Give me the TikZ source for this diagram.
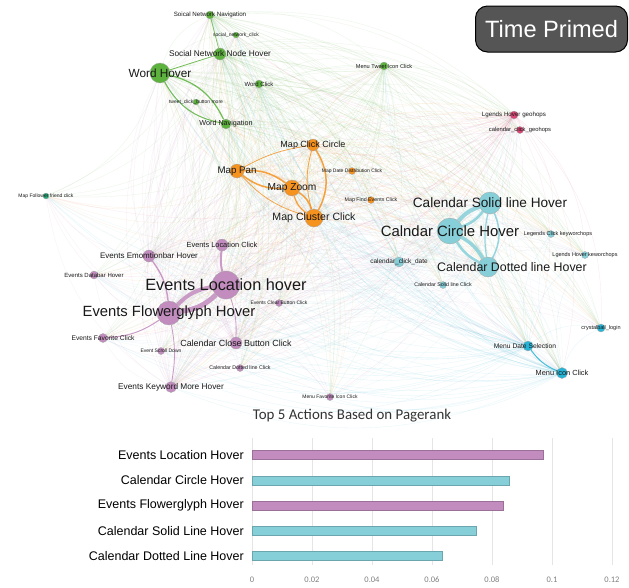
\documentclass[tikz,border=0pt]{standalone}
\usepackage{fontspec}
\setmainfont{Liberation Sans}
\newfontfamily\chartfont{Carlito}
\pgfdeclarelayer{bg}
\pgfdeclarelayer{edges}
\pgfsetlayers{bg,edges,main}
\definecolor{gcol}{RGB}{92,178,60}
\definecolor{ocol}{RGB}{246,146,30}
\definecolor{pcol}{RGB}{221,68,118}
\definecolor{tcol}{RGB}{38,168,122}
\definecolor{ccol}{RGB}{134,207,217}
\definecolor{mcol}{RGB}{38,180,214}
\definecolor{ucol}{RGB}{194,140,190}
\definecolor{boxgray}{RGB}{85,85,85}
\tikzset{
  act/.style={circle, inner sep=0pt, minimum size=#1, draw=black!35, line width=0.3pt},
  lab/.style={inner sep=0pt, font=\fontsize{#1}{#1}\selectfont, text=black!90},
  faint/.style={line width=0.3pt, draw opacity=0.13, bend left=24},
  edge/.style={draw opacity=0.85, bend left=18},
  gridline/.style={draw=black!10, line width=0.6pt},
  ticklab/.style={inner sep=0pt, text=black!50, font=\chartfont\fontsize{8.5}{9}\selectfont},
  barlab/.style={inner sep=0pt, anchor=east, font=\fontsize{12.5}{13}\selectfont}
}
\begin{document}
\begin{tikzpicture}[x=1pt,y=-1pt]
  \useasboundingbox (0,0) rectangle (629,587);
  \begin{pgfonlayer}{bg}
    \fill[white] (0,0) rectangle (629,587);
  \end{pgfonlayer}

  % word and social network actions
  \node[act=8, fill=gcol] (snn) at (210,15) {};
  \node[act=6, fill=gcol] (snc) at (236,35) {};
  \node[act=12, fill=gcol] (snh) at (220,54) {};
  \node[act=20, fill=gcol] (wh) at (160,73) {};
  \node[act=8, fill=gcol] (wc) at (259,84) {};
  \node[act=6, fill=gcol] (tcb) at (196,102) {};
  \node[act=10, fill=gcol] (wn) at (226,124) {};
  \node[act=8, fill=gcol] (mtc) at (384,66) {};
  % geohops
  \node[act=8, fill=pcol] (lhg) at (514,115) {};
  \node[act=7, fill=pcol] (ccg) at (520,130) {};
  % map actions
  \node[act=12, fill=ocol] (mcl) at (313,145) {};
  \node[act=14, fill=ocol] (mp) at (237,171) {};
  \node[act=16, fill=ocol] (mz) at (292,188) {};
  \node[act=18, fill=ocol] (mcc) at (314,218) {};
  \node[act=7, fill=ocol] (mdd) at (352,171) {};
  \node[act=7, fill=ocol] (mfe) at (371,200) {};
  \node[act=6, fill=tcol] (mff) at (46,196) {};
  % calendar actions
  \node[act=22, fill=ccol] (csol) at (490,203) {};
  \node[act=26, fill=ccol] (ccir) at (450,231) {};
  \node[act=7, fill=ccol] (lck) at (551,234) {};
  \node[act=7, fill=ccol] (lhk) at (585,255) {};
  \node[act=20, fill=ccol] (cdot) at (488,267) {};
  \node[act=10, fill=ccol] (ccd) at (399,262) {};
  \node[act=7, fill=ccol] (csc) at (443,285) {};
  % menu actions
  \node[act=8, fill=mcol] (cbl) at (601,328) {};
  \node[act=10, fill=mcol] (mds) at (528,346) {};
  \node[act=11, fill=mcol] (mic) at (562,373) {};
  % events actions
  \node[act=7, fill=ucol] (mfi) at (330,397) {};
  \node[act=12, fill=ucol] (eeh) at (149,256) {};
  \node[act=12, fill=ucol] (elc) at (222,245) {};
  \node[act=8, fill=ucol] (edh) at (94,275) {};
  \node[act=28, fill=ucol] (elh) at (226,285) {};
  \node[act=7, fill=ucol] (ecb) at (279,303) {};
  \node[act=24, fill=ucol] (efg) at (169,313) {};
  \node[act=9, fill=ucol] (efc) at (103,338) {};
  \node[act=12, fill=ucol] (ccb) at (236,343) {};
  \node[act=7, fill=ucol] (esd) at (161,351) {};
  \node[act=7, fill=ucol] (cdc) at (240,368) {};
  \node[act=11, fill=ucol] (ekm) at (171,387) {};

  \begin{pgfonlayer}{edges}
    % faint web
    \foreach \s/\c in {wh/gcol, snh/gcol, wn/gcol, mtc/gcol, snn/gcol, wc/gcol,
        mz/ocol, mcc/ocol, mp/ocol, mcl/ocol, ccir/ccol, csol/ccol, cdot/ccol,
        ccd/ccol, mic/mcol, mds/mcol, elh/ucol, efg/ucol, ekm/ucol, ccb/ucol,
        eeh/ucol, lhg/pcol}
      \foreach \t in {snn,snc,snh,wh,wc,tcb,wn,mtc,lhg,ccg,mcl,mp,mz,mcc,mdd,mfe,
          mff,csol,ccir,lck,lhk,cdot,ccd,csc,cbl,mds,mic,mfi,eeh,elc,edh,elh,ecb,
          efg,efc,ccb,esd,cdc,ekm}
        {\ifx\s\t\else\draw[faint, draw=\c] (\s) to (\t);\fi}
    % strong links
    \draw[edge, gcol, line width=1.2] (wh) to[bend left=25] (wn);
    \draw[edge, gcol, line width=1.0] (wn) to[bend left=25] (wh);
    \draw[edge, gcol, line width=0.8] (wh) -- (snh);
    \draw[edge, gcol, line width=0.6] (snh) -- (snn);
    \draw[edge, ocol, line width=1.5] (mp) to[bend left=20] (mz);
    \draw[edge, ocol, line width=1.5] (mz) to[bend left=20] (mp);
    \draw[edge, ocol, line width=1.5] (mz) to[bend left=20] (mcc);
    \draw[edge, ocol, line width=1.2] (mcc) to[bend left=20] (mz);
    \draw[edge, ocol, line width=1.5] (mcl) to[bend left=30] (mcc);
    \draw[edge, ocol, line width=0.8] (mcc) to[bend left=15] (mcl);
    \draw[edge, ocol, line width=0.7] (mp) to[bend left=10] (mcl);
    \draw[edge, ocol, line width=0.7] (mp) to[bend right=15] (mcc);
    \draw[edge, ccol, line width=4] (ccir) to[bend left=15] (csol);
    \draw[edge, ccol, line width=2.5] (csol) to[bend left=15] (ccir);
    \draw[edge, ccol, line width=3.5] (ccir) to[bend left=15] (cdot);
    \draw[edge, ccol, line width=2.5] (cdot) to[bend left=15] (ccir);
    \draw[edge, ccol, line width=1.5] (csol) to[bend left=25] (cdot);
    \draw[edge, ccol, line width=1.2] (cdot) to[bend left=10] (csol);
    \draw[edge, mcol, line width=1] (mds) to[bend right=15] (mic);
    \draw[edge, ucol, line width=5] (elh) to[bend left=18] (efg);
    \draw[edge, ucol, line width=4] (efg) to[bend left=18] (elh);
    \draw[edge, ucol, line width=2] (elc) to[bend right=10] (elh);
    \draw[edge, ucol, line width=1.4] (eeh) to[bend left=15] (efg);
    \draw[edge, ucol, line width=1] (efg) to[bend left=15] (efc);
    \draw[edge, ucol, line width=0.8] (efg) to[bend left=10] (ekm);
    \draw[edge, ucol, line width=0.8] (elh) to[bend left=10] (ccb);
  \end{pgfonlayer}

  % labels
  \node[lab=6.2] (snn-t) at (snn) {Soical Network Navigation};
  \node[lab=5] (snc-t) at (snc) {social\_network\_click};
  \node[lab=8.3] (snh-t) at (snh) {Social Network Node Hover};
  \node[lab=11.8] (wh-t) at (wh) {Word Hover};
  \node[lab=6] (wc-t) at (wc) {Word Click};
  \node[lab=5] (tcb-t) at (tcb) {tweet\_click\_button more};
  \node[lab=7.2] (wn-t) at (wn) {Word Navigation};
  \node[lab=5.6] (mtc-t) at (mtc) {Menu Tweet Icon Click};
  \node[lab=6.2] (lhg-t) at (lhg) {Lgends Hover geohops};
  \node[lab=5.8] (ccg-t) at (ccg) {calendar\_click\_geohops};
  \node[lab=9] (mcl-t) at (mcl) {Map Click Circle};
  \node[lab=9.7] (mp-t) at (mp) {Map Pan};
  \node[lab=10.2] (mz-t) at (mz) {Map Zoom};
  \node[lab=10.6] (mcc-t) at (mcc) {Map Cluster Click};
  \node[lab=5] (mdd-t) at (mdd) {Map Date Distribution Click};
  \node[lab=5.3] (mfe-t) at (mfe) {Map Find Events Click};
  \node[lab=5] (mff-t) at (mff) {Map Follower friend click};
  \node[lab=13.6] (csol-t) at (csol) {Calendar Solid line Hover};
  \node[lab=14.9] (ccir-t) at (ccir) {Calndar Circle Hover};
  \node[lab=5.5] (lck-t) at ([xshift=7]lck) {Legends Click keyworchops};
  \node[lab=5.5] (lhk-t) at (lhk) {Lgends Hover keworchops};
  \node[lab=12.4] (cdot-t) at ([xshift=24]cdot) {Calendar Dotted line Hover};
  \node[lab=6.5] (ccd-t) at (ccd) {calendar\_click\_date};
  \node[lab=5.3] (csc-t) at (csc) {Calendar Solid line Click};
  \node[lab=5.5] (cbl-t) at (cbl) {crystalball\_login};
  \node[lab=6.7] (mds-t) at ([xshift=-3]mds) {Menu Date Selection};
  \node[lab=7.4] (mic-t) at (mic) {Menu Icon Click};
  \node[lab=5] (mfi-t) at (mfi) {Menu Favorite Icon Click};
  \node[lab=8] (eeh-t) at (eeh) {Events Emomtionbar Hover};
  \node[lab=7.4] (elc-t) at (elc) {Events Location Click};
  \node[lab=6] (edh-t) at (edh) {Events Databar Hover};
  \node[lab=16.3] (elh-t) at (elh) {Events Location hover};
  \node[lab=5] (ecb-t) at (ecb) {Events Clear Button Click};
  \node[lab=14.8] (efg-t) at (efg) {Events Flowerglyph Hover};
  \node[lab=6.7] (efc-t) at (efc) {Events Favorite Click};
  \node[lab=8.9] (ccb-t) at (ccb) {Calendar Close Button Click};
  \node[lab=5] (esd-t) at (esd) {Event Scroll Down};
  \node[lab=5.3] (cdc-t) at (cdc) {Calendar Dotted line Click};
  \node[lab=8.3] (ekm-t) at (ekm) {Events Keyword More Hover};

  % condition badge
  \node[draw=black, line width=1, fill=boxgray, rounded corners=12, minimum width=152,
    minimum height=46, text=white, font=\fontsize{23.6}{24}\selectfont] (tp) at (551.5,29) {Time Primed};

  % pagerank chart
  \node[inner sep=0pt, text=black!80, font=\chartfont\fontsize{14.9}{15}\selectfont] (ttl) at (352,416) {Top 5 Actions Based on Pagerank};
  \foreach \i/\v in {0/0, 1/0.02, 2/0.04, 3/0.06, 4/0.08, 5/0.1, 6/0.12} {
    \draw[gridline] (252+60*\i,438) -- (252+60*\i,565);
    \node[ticklab] (tk\i) at (252+60*\i,580) {\v};
  }
  \foreach \k/\v/\c/\t in {1/0.0970/ucol/Events Location Hover, 2/0.0857/ccol/Calendar Circle Hover,
      3/0.0837/ucol/Events Flowerglyph Hover, 4/0.0747/ccol/Calendar Solid Line Hover,
      5/0.0633/ccol/Calendar Dotted Line Hover} {
    \pgfmathsetmacro\yy{455+25.25*(\k-1)}
    \fill[\c, draw=\c!80!black, line width=0.4] (252,\yy-4.5) rectangle (252+3000*\v,\yy+4.5);
    \node[barlab] (bl\k) at (244,\yy) {\t};
  }
\end{tikzpicture}
\end{document}
